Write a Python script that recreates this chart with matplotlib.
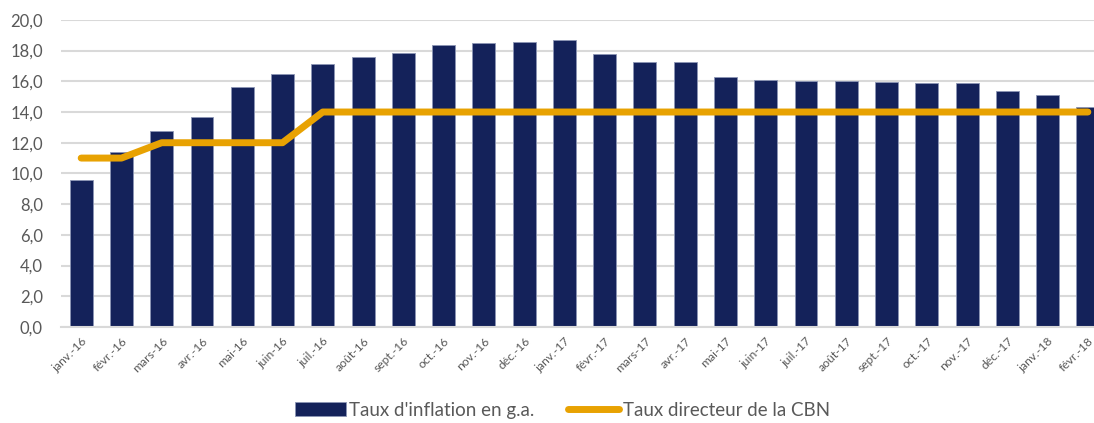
import matplotlib.pyplot as plt
import numpy as np

plt.rcParams['font.family'] = ['Lato', 'DejaVu Sans']

mois = ["janv.-16", "févr.-16", "mars-16", "avr.-16", "mai-16", "juin-16", "juil.-16",
        "août-16", "sept.-16", "oct.-16", "nov.-16", "déc.-16", "janv.-17", "févr.-17",
        "mars-17", "avr.-17", "mai-17", "juin-17", "juil.-17", "août-17", "sept.-17",
        "oct.-17", "nov.-17", "déc.-17", "janv.-18", "févr.-18"]
inflation = [9.6, 11.4, 12.75, 13.7, 15.6, 16.5, 17.15, 17.6, 17.85, 18.35, 18.5, 18.55,
             18.72, 17.78, 17.26, 17.23, 16.25, 16.1, 16.05, 16.01, 15.98, 15.91, 15.9,
             15.37, 15.13, 14.33]
taux_directeur = [11, 11, 12, 12, 12, 12, 14, 14, 14, 14, 14, 14, 14, 14, 14, 14, 14,
                  14, 14, 14, 14, 14, 14, 14, 14, 14]

fig = plt.figure(figsize=(10.94, 4.23), dpi=100)
ax = fig.add_axes([0.0558, 0.227, 0.957, 0.726])

x = np.arange(len(mois))
barres = ax.bar(x, inflation, width=0.57, color='#14225A', edgecolor='#8C95B5',
                linewidth=0.6, label="Taux d'inflation en g.a.", zorder=2)
ligne, = ax.plot(x, taux_directeur, color='#E8A202', linewidth=5, solid_capstyle='round',
                 solid_joinstyle='round', label='Taux directeur de la CBN', zorder=3)

ax.set_xlim(-0.5, len(mois) - 0.5)
ax.set_ylim(0, 20)
ax.set_yticks(np.arange(0, 21, 2))
ax.set_yticklabels([f"{v:.1f}".replace('.', ',') for v in np.arange(0, 21, 2)])
ax.set_xticks(x)
ax.set_xticklabels(mois, rotation=45, ha='right', rotation_mode='anchor')

ax.yaxis.grid(True, color='#D9D9D9', linewidth=1.5, zorder=0)
ax.set_axisbelow(True)
for s in ['top', 'right', 'left']:
    ax.spines[s].set_visible(False)
ax.spines['bottom'].set_color('#D9D9D9')
ax.spines['bottom'].set_linewidth(1.5)
ax.tick_params(axis='y', length=0, labelsize=12, labelcolor='#595959', pad=13)
ax.tick_params(axis='x', length=0, labelsize=8.7, labelcolor='#595959', pad=6)

fig.legend([barres, ligne], ["Taux d'inflation en g.a.", 'Taux directeur de la CBN'],
           loc='center', bbox_to_anchor=(0.514, 0.03), ncol=2, frameon=False,
           fontsize=13.5, labelcolor='#595959', handlelength=2.7, handleheight=0.8,
           columnspacing=1.8, handletextpad=0.2, borderpad=0.1)

fig.savefig('out.png', dpi=100)
